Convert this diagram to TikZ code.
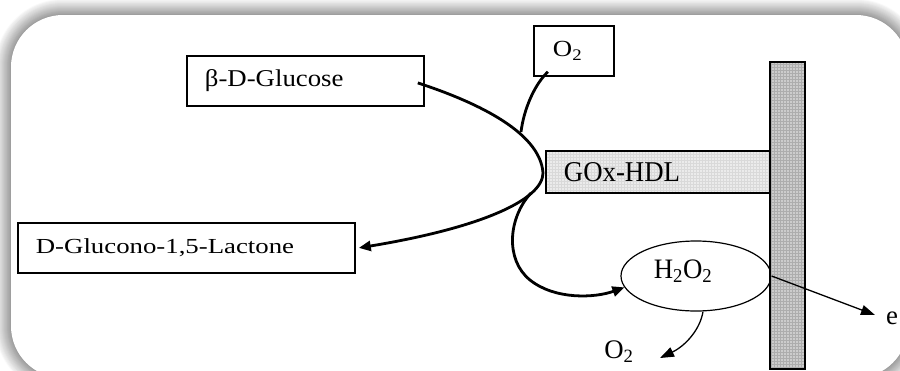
\documentclass[tikz,border=0pt]{standalone}
\usepackage{fontspec}
\setmainfont{Liberation Serif}
\usetikzlibrary{arrows.meta,shapes.geometric,patterns,calc}
\begin{document}
\begin{tikzpicture}[x=1pt,y=-1pt,
  lbl/.style={font=\fontsize{26.8}{31}\selectfont, text=black},
  boxnode/.style={lbl, draw, line width=1.8pt, anchor=north west, inner xsep=18pt, inner ysep=0pt, align=left},
  thickline/.style={line width=2.8pt},
  thinline/.style={line width=1.3pt},
  bigtip/.style={-{Triangle[length=12pt,width=10pt]}},
  smalltip/.style={-{Triangle[length=14pt,width=10pt]}},
]
\useasboundingbox (0,0) rectangle (900,370);
% frame with soft shadow
\foreach \i in {16,...,1}{
  \pgfmathtruncatemacro\g{round(40*(1-\i/17))}
  \pgfmathtruncatemacro\r{52+\i}
  \fill[black!\g, rounded corners=\r pt] (11-\i,15-\i) rectangle (908+\i,378+\i);
}
\fill[white, rounded corners=52pt] (11,15) rectangle (908,378);

% boxes
\node[boxnode, minimum width=237pt, minimum height=50pt, text width=201pt] (glu) at (186,55) {\scalebox{1}[0.9]{β-D-Glucose}};
\node[boxnode, minimum width=337pt, minimum height=50pt, text width=301pt] (lac) at (17,222) {\scalebox{1}[0.8]{D-Glucono-1,5-Lactone}};
\node[boxnode, minimum width=80pt, minimum height=50pt, text width=42pt, inner xsep=19pt] (otop) at (533,25) {\scalebox{1}[0.86]{O\textsubscript{2}}};
\node[boxnode, minimum width=225pt, minimum height=42pt, text width=189pt,
      preaction={fill=black!8}, pattern=grid, pattern color=black!15] (gox) at (545,150) {\scalebox{1}[1.07]{GOx-HDL}};

% H2O2 ellipse
\node[ellipse, draw, line width=1.2pt, minimum width=150pt, minimum height=70pt, inner sep=0pt] (hp) at (696,276) {};
\node[lbl, inner sep=0pt] (hptxt) at (683,271) {\scalebox{1}[1.05]{H\textsubscript{2}O\textsubscript{2}}};

% electrode
\node[draw, line width=2.2pt, anchor=north west, minimum width=35pt, minimum height=307pt, inner sep=0pt,
      preaction={fill=black!20}, pattern=grid, pattern color=black!32] (elec) at (769,61) {};

% free labels
\node[lbl, inner sep=0pt] (obot) at (619,352) {O\textsubscript{2}};
\node[lbl, inner sep=0pt] (e) at (892,318) {e};

% connection points
\coordinate (gs) at ($(glu.east)+(-7,2)$);
\coordinate (nose) at ($(gox.west)+(-2,1)$);
\coordinate (j1) at (521,132);
\coordinate (j2) at (531,193);
\coordinate (o2tip) at (660,358);
\coordinate (etip) at (875,315);

% main reaction curve
\draw[thickline, bigtip] (gs) .. controls (470,100) and (540,130) .. (nose)
      .. controls (543,200) and (480,228) .. ([xshift=3pt]lac.east);
% O2 feed
\draw[thickline] ($(otop.south)+(-26,-5)$) .. controls (535,84) and (524,108) .. (j1);
% branch to H2O2
\draw[thickline, bigtip] (j2) .. controls (508,218) and (505,260) .. (530,280)
      .. controls (555,300) and (595,298) .. (hp.189);
% H2O2 -> O2
\draw[thinline, smalltip] ($(hp.south)+(7,0)$) .. controls (700,330) and (685,346) .. (o2tip);
% H2O2 -> e
\draw[thinline, smalltip] (hp.east) -- (etip);
\end{tikzpicture}
\end{document}
